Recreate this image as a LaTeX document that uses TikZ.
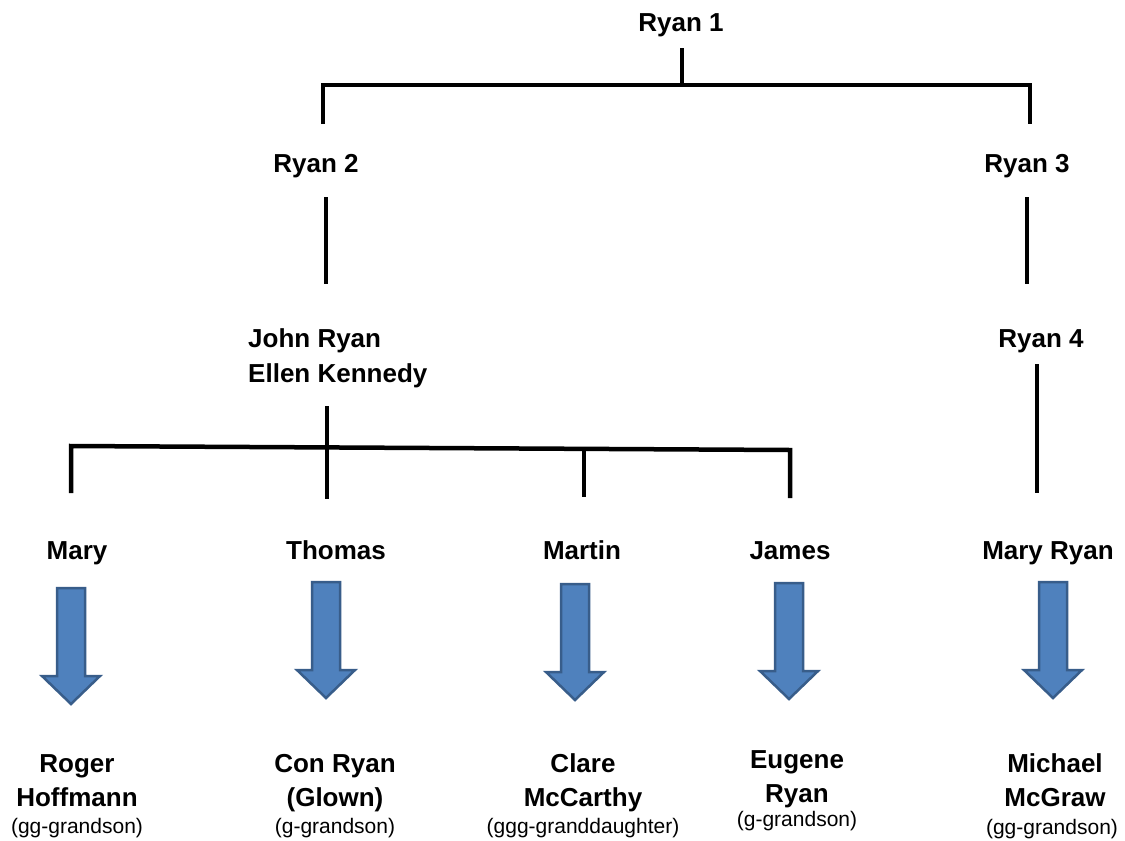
\documentclass[tikz,border=0pt]{standalone}
\usepackage{fontspec}
\setmainfont{Liberation Sans}
\definecolor{arrowfill}{HTML}{4F81BD}
\definecolor{arrowedge}{HTML}{385D8A}
\begin{document}
\begin{tikzpicture}[x=1pt,y=-1pt,
  person/.style={font=\fontsize{26}{34}\selectfont\bfseries, anchor=base, inner sep=0pt, align=center},
  rel/.style={font=\fontsize{21}{26}\selectfont, anchor=base, inner sep=0pt},
  tree/.style={line width=4.5pt, line cap=butt, line join=miter},
  bluearrow/.style={fill=arrowfill, draw=arrowedge, line width=2.5pt, line join=miter},
  downarrow/.pic={\path[bluearrow] (-14,0) -- (14,0) -- (14,88) -- (29,88) -- (0,116) -- (-29,88) -- (-14,88) -- cycle;}
]
\useasboundingbox[fill=white] (0,0) rectangle (1125,841);

% ---- names (base anchor = baseline of last line) ----
\node[person] (ryan1) at (681,31) {Ryan 1};
\node[person] (ryan2) at (316,172) {Ryan 2};
\node[person] (ryan3) at (1027,172) {Ryan 3};
\node[person, font=\fontsize{26}{35}\selectfont\bfseries, anchor=base west, align=left] (john) at (248,382) {John Ryan\\Ellen Kennedy};
\node[person] (ryan4) at (1041,347) {Ryan 4};

\node[person] (mary) at (77,559) {Mary};
\node[person] (thomas) at (336,559) {Thomas};
\node[person] (martin) at (582,559) {Martin};
\node[person] (james) at (790,559) {James};
\node[person] (maryryan) at (1048,559) {Mary Ryan};

\node[person] (roger) at (77,806) {Roger\\Hoffmann};
\node[rel] (rogerrel) at (77,833) {(gg-grandson)};
\node[person] (con) at (335,806) {Con Ryan\\(Glown)};
\node[rel] (conrel) at (335,833) {(g-grandson)};
\node[person] (clare) at (583,806) {Clare\\McCarthy};
\node[rel] (clarerel) at (583,833) {(ggg-granddaughter)};
\node[person] (eugene) at (797,802) {Eugene\\Ryan};
\node[rel] (eugenerel) at (797,826) {(g-grandson)};
\node[person] (michael) at (1055,806) {Michael\\McGraw};
\node[rel] (michaelrel) at (1052,834) {(gg-grandson)};

% ---- tree lines ----
\coordinate (r1top) at (682,48);
\coordinate (r1mid) at (682,85);
\coordinate (tl) at (323,85);
\coordinate (tr) at (1030,85);
\coordinate (tlb) at (323,124);
\coordinate (trb) at (1030,124);
\draw[tree] (r1top) -- (r1mid);
\draw[tree] (tlb) -- (tl) -- (tr) -- (trb);

\coordinate (r2a) at (326,197);
\coordinate (r2b) at (326,284);
\draw[tree] (r2a) -- (r2b);
\coordinate (r3a) at (1027,197);
\coordinate (r3b) at (1027,284);
\draw[tree] (r3a) -- (r3b);
\coordinate (r4a) at (1037,364);
\coordinate (r4b) at (1037,493);
\draw[tree] (r4a) -- (r4b);

\coordinate (jtop) at (327,406);
\coordinate (jbot) at (327,499);
\draw[tree] (jtop) -- (jbot);
\coordinate (hl) at (71,446);
\coordinate (hr) at (790,450);
\coordinate (hm) at (584,449);
\coordinate (vl) at (71,493);
\coordinate (vm) at (584,497);
\coordinate (vr) at (790,498);
\draw[tree] (vl) -- (hl) -- (hr) -- (vr);
\draw[tree] (hm) -- (vm);

% ---- block arrows ----
\pic at (71,588) {downarrow};
\pic at (326,582) {downarrow};
\pic at (575,584) {downarrow};
\pic at (789,583) {downarrow};
\pic at (1053,582) {downarrow};
\end{tikzpicture}
\end{document}
